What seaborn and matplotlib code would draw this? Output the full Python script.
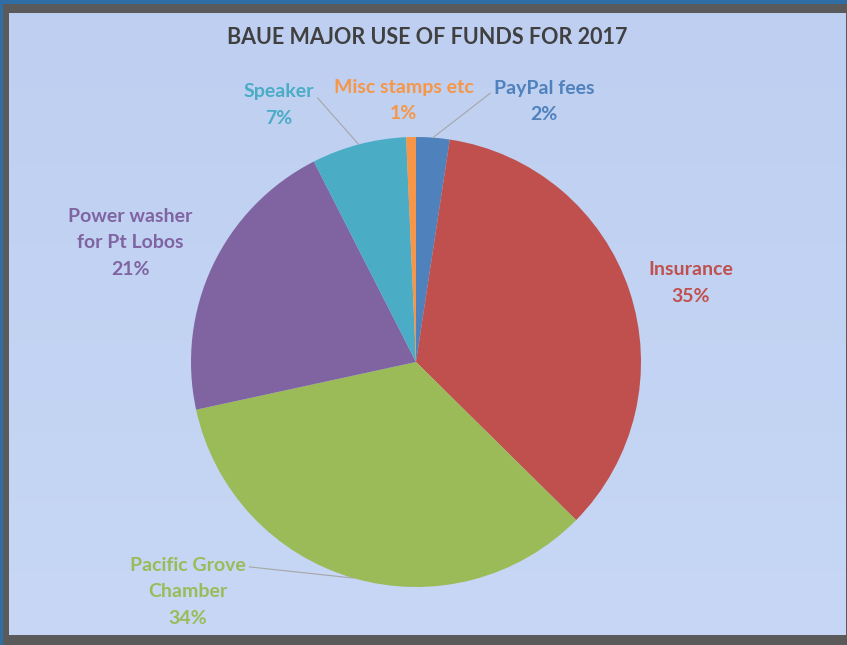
import matplotlib.pyplot as plt
import matplotlib.patches as mpatches
import numpy as np
import seaborn as sns

# data
categories = ["PayPal fees", "Insurance", "Pacific Grove\nChamber",
              "Power washer\nfor Pt Lobos", "Speaker", "Misc stamps etc"]
shares = [2.4, 35.0, 34.2, 20.9, 6.8, 0.7]
colors = ["#4F81BD", "#C0504D", "#9BBB59", "#8064A2", "#4BACC6", "#F79646"]
title = "BAUE MAJOR USE OF FUNDS FOR 2017"

# where the labels sit (pie radius = 1) and where the leader line leaves the label
label_pos = [(0.569, 1.158), (1.222, 0.351), (-1.013, -1.022),
             (-1.271, 0.529), (-0.609, 1.142), (-0.056, 1.162)]
leader = [(0, 0.75), None, (1, 0.86), None, (1, 0.75), None]

sns.set_theme(style="white")
plt.rcParams['font.family'] = ['Lato', 'DejaVu Sans']

W, H = 847, 645
fig = plt.figure(figsize=(W / 100, H / 100), dpi=100)
fig.patch.set_facecolor('#2f6ea5')

# dark gray frame
fig.patches.append(mpatches.Rectangle((3 / W, 0), (W - 3) / W, (H - 4) / H,
                                      transform=fig.transFigure,
                                      facecolor='#5a5a5a', edgecolor='none', zorder=-5))

# light blue gradient background
ax_bg = fig.add_axes([9 / W, 10 / H, 836 / W, 622 / H], zorder=-1)
grad = np.linspace(0, 1, 256).reshape(-1, 1)
c_top = np.array([0.745, 0.812, 0.945])
c_bot = np.array([0.780, 0.843, 0.960])
img = c_top + grad[..., None] * (c_bot - c_top)
img = np.repeat(img, 2, axis=1)
ax_bg.imshow(img, aspect='auto', extent=[0, 1, 0, 1], origin='upper')
ax_bg.set_axis_off()

# pie
R = 225
cx, cy = 416, 362
ax = fig.add_axes([(cx - R) / W, (H - cy - R) / H, 2 * R / W, 2 * R / H], zorder=1)
ax.patch.set_alpha(0)
wedges, _ = ax.pie(shares, colors=colors, startangle=90, counterclock=False,
                   radius=1, wedgeprops=dict(linewidth=0))
ax.set_xlim(-1, 1)
ax.set_ylim(-1, 1)
ax.set_axis_off()

for w, cat, val, pos, lead, col in zip(wedges, categories, shares, label_pos, leader, colors):
    mid = np.deg2rad((w.theta1 + w.theta2) / 2)
    txt = f"{cat}\n{round(val)}%"
    kw = dict(ha='center', va='center', fontsize=14, fontweight='bold',
              color=col, linespacing=1.7, annotation_clip=False)
    if lead is not None:
        kw['arrowprops'] = dict(arrowstyle='-', color='#a6a6a6', lw=0.8,
                                relpos=lead, shrinkA=0, shrinkB=0)
    ax.annotate(txt, xy=(np.cos(mid), np.sin(mid)), xytext=pos, **kw)

fig.text(427 / W, 1 - 37 / H, title, ha='center', va='center',
         fontsize=15.5, fontweight='bold', color='#404040', zorder=3)

plt.savefig("out.png", dpi=100)
